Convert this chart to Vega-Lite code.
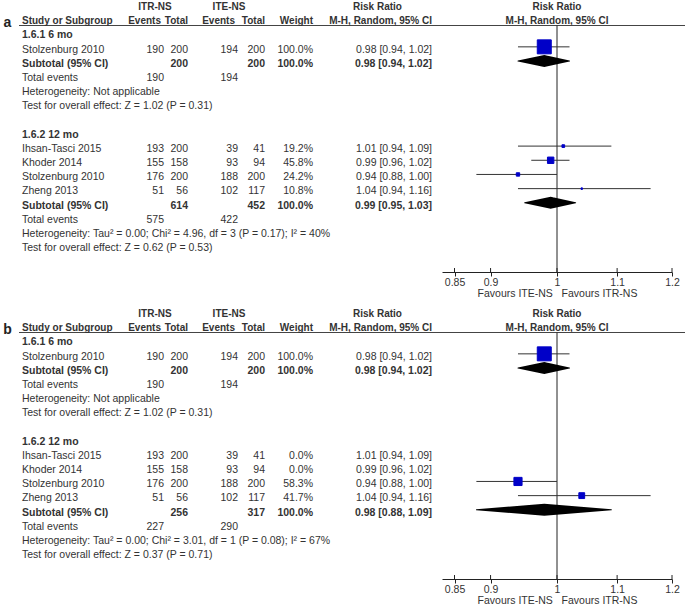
{
"$schema":"https://vega.github.io/schema/vega-lite/v6.json",
"padding":0,
"background":"white",
"config":{"view":{"stroke":null},"font":"Liberation Sans","text":{"font":"Liberation Sans","fontSize":10.5,"color":"#333","baseline":"middle"}},
"datasets":{
"a":[
{"row":0,"kind":"head1","e1":"ITR-NS","e2":"ITE-NS","ci":"Risk Ratio"},
{"row":1,"kind":"head2","label":"a","study":"Study or Subgroup","e1":"Events","n1":"Total","e2":"Events","n2":"Total","w":"Weight","ci":"M-H, Random, 95% CI"},
{"row":2,"kind":"group","study":"1.6.1 6 mo"},
{"row":3,"kind":"study","study":"Stolzenburg 2010","e1":"190","n1":"200","e2":"194","n2":"200","w":"100.0%","ci":"0.98 [0.94, 1.02]","est":0.98,"lo":0.94,"hi":1.02,"wt":100},
{"row":4,"kind":"subtotal","study":"Subtotal (95% CI)","n1":"200","n2":"200","w":"100.0%","ci":"0.98 [0.94, 1.02]","est":0.98,"lo":0.94,"hi":1.02},
{"row":5,"kind":"total","study":"Total events","e1":"190","e2":"194"},
{"row":6,"kind":"note","study":"Heterogeneity: Not applicable"},
{"row":7,"kind":"note","study":"Test for overall effect: Z = 1.02 (P = 0.31)"},
{"row":9,"kind":"group","study":"1.6.2 12 mo"},
{"row":10,"kind":"study","study":"Ihsan-Tasci 2015","e1":"193","n1":"200","e2":"39","n2":"41","w":"19.2%","ci":"1.01 [0.94, 1.09]","est":1.01,"lo":0.94,"hi":1.09,"wt":19.2},
{"row":11,"kind":"study","study":"Khoder 2014","e1":"155","n1":"158","e2":"93","n2":"94","w":"45.8%","ci":"0.99 [0.96, 1.02]","est":0.99,"lo":0.96,"hi":1.02,"wt":45.8},
{"row":12,"kind":"study","study":"Stolzenburg 2010","e1":"176","n1":"200","e2":"188","n2":"200","w":"24.2%","ci":"0.94 [0.88, 1.00]","est":0.94,"lo":0.88,"hi":1.0,"wt":24.2},
{"row":13,"kind":"study","study":"Zheng 2013","e1":"51","n1":"56","e2":"102","n2":"117","w":"10.8%","ci":"1.04 [0.94, 1.16]","est":1.04,"lo":0.94,"hi":1.16,"wt":10.8},
{"row":14,"kind":"subtotal","study":"Subtotal (95% CI)","n1":"614","n2":"452","w":"100.0%","ci":"0.99 [0.95, 1.03]","est":0.99,"lo":0.95,"hi":1.03},
{"row":15,"kind":"total","study":"Total events","e1":"575","e2":"422"},
{"row":16,"kind":"note","study":"Heterogeneity: Tau² = 0.00; Chi² = 4.96, df = 3 (P = 0.17); I² = 40%"},
{"row":17,"kind":"note","study":"Test for overall effect: Z = 0.62 (P = 0.53)"}
],
"b":[
{"row":0,"kind":"head1","e1":"ITR-NS","e2":"ITE-NS","ci":"Risk Ratio"},
{"row":1,"kind":"head2","label":"b","study":"Study or Subgroup","e1":"Events","n1":"Total","e2":"Events","n2":"Total","w":"Weight","ci":"M-H, Random, 95% CI"},
{"row":2,"kind":"group","study":"1.6.1 6 mo"},
{"row":3,"kind":"study","study":"Stolzenburg 2010","e1":"190","n1":"200","e2":"194","n2":"200","w":"100.0%","ci":"0.98 [0.94, 1.02]","est":0.98,"lo":0.94,"hi":1.02,"wt":100},
{"row":4,"kind":"subtotal","study":"Subtotal (95% CI)","n1":"200","n2":"200","w":"100.0%","ci":"0.98 [0.94, 1.02]","est":0.98,"lo":0.94,"hi":1.02},
{"row":5,"kind":"total","study":"Total events","e1":"190","e2":"194"},
{"row":6,"kind":"note","study":"Heterogeneity: Not applicable"},
{"row":7,"kind":"note","study":"Test for overall effect: Z = 1.02 (P = 0.31)"},
{"row":9,"kind":"group","study":"1.6.2 12 mo"},
{"row":10,"kind":"study","study":"Ihsan-Tasci 2015","e1":"193","n1":"200","e2":"39","n2":"41","w":"0.0%","ci":"1.01 [0.94, 1.09]","est":1.01,"lo":0.94,"hi":1.09,"wt":0},
{"row":11,"kind":"study","study":"Khoder 2014","e1":"155","n1":"158","e2":"93","n2":"94","w":"0.0%","ci":"0.99 [0.96, 1.02]","est":0.99,"lo":0.96,"hi":1.02,"wt":0},
{"row":12,"kind":"study","study":"Stolzenburg 2010","e1":"176","n1":"200","e2":"188","n2":"200","w":"58.3%","ci":"0.94 [0.88, 1.00]","est":0.94,"lo":0.88,"hi":1.0,"wt":58.3},
{"row":13,"kind":"study","study":"Zheng 2013","e1":"51","n1":"56","e2":"102","n2":"117","w":"41.7%","ci":"1.04 [0.94, 1.16]","est":1.04,"lo":0.94,"hi":1.16,"wt":41.7},
{"row":14,"kind":"subtotal","study":"Subtotal (95% CI)","n1":"256","n2":"317","w":"100.0%","ci":"0.98 [0.88, 1.09]","est":0.98,"lo":0.88,"hi":1.09},
{"row":15,"kind":"total","study":"Total events","e1":"227","e2":"290"},
{"row":16,"kind":"note","study":"Heterogeneity: Tau² = 0.00; Chi² = 3.01, df = 1 (P = 0.08); I² = 67%"},
{"row":17,"kind":"note","study":"Test for overall effect: Z = 0.37 (P = 0.71)"}
],
"ticks":[{"t":0.85},{"t":0.9},{"t":1},{"t":1.1},{"t":1.2}]
},
"spacing":8,
"vconcat":[
{"hconcat":[
{"width":19,"height":272,"data":{"name":"a"},"transform":[{"filter":"isValid(datum.label)"}],"mark":{"type":"text","fontSize":14,"fontWeight":"bold","color":"#222","dx":-2,"dy":2},"encoding":{"y":{"field":"row","type":"quantitative","scale":{"domain":[-0.494,18.69],"reverse":true,"nice":false,"zero":false},"axis":null},"text":{"field":"label"}}},
{"width":114,"height":272,"layer":[
{"data":{"values":[{}]},"mark":{"type":"rule","color":"#444"},"encoding":{"y":{"datum":1.305,"type":"quantitative","scale":{"domain":[-0.494,18.69],"reverse":true,"nice":false,"zero":false},"axis":null}}},
{"data":{"name":"a"},"transform":[{"filter":"isValid(datum.study)"}],"mark":{"type":"text","align":"left","dx":3,"fontSize":{"expr":"datum.kind == 'head2' ? 10 : 10.5"},"fontWeight":{"expr":"indexof(['head1','head2','group','subtotal'], datum.kind) >= 0 ? 'bold' : 'normal'"}},"encoding":{"x":{"value":0},"y":{"field":"row","type":"quantitative","scale":{"domain":[-0.494,18.69],"reverse":true,"nice":false,"zero":false},"axis":null},"text":{"field":"study"}}}
]},
{"width":31,"height":272,"layer":[
{"data":{"values":[{}]},"mark":{"type":"rule","color":"#444"},"encoding":{"y":{"datum":1.305,"type":"quantitative","scale":{"domain":[-0.494,18.69],"reverse":true,"nice":false,"zero":false},"axis":null}}},
{"data":{"name":"a"},"transform":[{"filter":"isValid(datum.e1) && datum.kind != 'head1'"}],"mark":{"type":"text","align":"right","dx":{"expr":"datum.kind == 'head2' ? -3 : 0"},"fontSize":{"expr":"datum.kind == 'head2' ? 10 : 10.5"},"fontWeight":{"expr":"indexof(['head1','head2','group','subtotal'], datum.kind) >= 0 ? 'bold' : 'normal'"}},"encoding":{"x":{"value":"width"},"y":{"field":"row","type":"quantitative","scale":{"domain":[-0.494,18.69],"reverse":true,"nice":false,"zero":false},"axis":null},"text":{"field":"e1"}}},
{"data":{"name":"a"},"transform":[{"filter":"datum.kind == 'head1'"}],"mark":{"type":"text","align":"center","dx":-9,"fontSize":10,"fontWeight":"bold"},"encoding":{"x":{"value":"width"},"y":{"field":"row","type":"quantitative","scale":{"domain":[-0.494,18.69],"reverse":true,"nice":false,"zero":false},"axis":null},"text":{"field":"e1"}}}
]},
{"width":24,"height":272,"layer":[
{"data":{"values":[{}]},"mark":{"type":"rule","color":"#444"},"encoding":{"y":{"datum":1.305,"type":"quantitative","scale":{"domain":[-0.494,18.69],"reverse":true,"nice":false,"zero":false},"axis":null}}},
{"data":{"name":"a"},"transform":[{"filter":"isValid(datum.n1)"}],"mark":{"type":"text","align":"right","fontSize":{"expr":"datum.kind == 'head2' ? 10 : 10.5"},"fontWeight":{"expr":"indexof(['head1','head2','group','subtotal'], datum.kind) >= 0 ? 'bold' : 'normal'"}},"encoding":{"x":{"value":"width"},"y":{"field":"row","type":"quantitative","scale":{"domain":[-0.494,18.69],"reverse":true,"nice":false,"zero":false},"axis":null},"text":{"field":"n1"}}}
]},
{"width":50,"height":272,"layer":[
{"data":{"values":[{}]},"mark":{"type":"rule","color":"#444"},"encoding":{"y":{"datum":1.305,"type":"quantitative","scale":{"domain":[-0.494,18.69],"reverse":true,"nice":false,"zero":false},"axis":null}}},
{"data":{"name":"a"},"transform":[{"filter":"isValid(datum.e2) && datum.kind != 'head1'"}],"mark":{"type":"text","align":"right","dx":{"expr":"datum.kind == 'head2' ? -3 : 0"},"fontSize":{"expr":"datum.kind == 'head2' ? 10 : 10.5"},"fontWeight":{"expr":"indexof(['head1','head2','group','subtotal'], datum.kind) >= 0 ? 'bold' : 'normal'"}},"encoding":{"x":{"value":"width"},"y":{"field":"row","type":"quantitative","scale":{"domain":[-0.494,18.69],"reverse":true,"nice":false,"zero":false},"axis":null},"text":{"field":"e2"}}},
{"data":{"name":"a"},"transform":[{"filter":"datum.kind == 'head1'"}],"mark":{"type":"text","align":"center","dx":-9,"fontSize":10,"fontWeight":"bold"},"encoding":{"x":{"value":"width"},"y":{"field":"row","type":"quantitative","scale":{"domain":[-0.494,18.69],"reverse":true,"nice":false,"zero":false},"axis":null},"text":{"field":"e2"}}}
]},
{"width":27,"height":272,"layer":[
{"data":{"values":[{}]},"mark":{"type":"rule","color":"#444"},"encoding":{"y":{"datum":1.305,"type":"quantitative","scale":{"domain":[-0.494,18.69],"reverse":true,"nice":false,"zero":false},"axis":null}}},
{"data":{"name":"a"},"transform":[{"filter":"isValid(datum.n2)"}],"mark":{"type":"text","align":"right","fontSize":{"expr":"datum.kind == 'head2' ? 10 : 10.5"},"fontWeight":{"expr":"indexof(['head1','head2','group','subtotal'], datum.kind) >= 0 ? 'bold' : 'normal'"}},"encoding":{"x":{"value":"width"},"y":{"field":"row","type":"quantitative","scale":{"domain":[-0.494,18.69],"reverse":true,"nice":false,"zero":false},"axis":null},"text":{"field":"n2"}}}
]},
{"width":48,"height":272,"layer":[
{"data":{"values":[{}]},"mark":{"type":"rule","color":"#444"},"encoding":{"y":{"datum":1.305,"type":"quantitative","scale":{"domain":[-0.494,18.69],"reverse":true,"nice":false,"zero":false},"axis":null}}},
{"data":{"name":"a"},"transform":[{"filter":"isValid(datum.w)"}],"mark":{"type":"text","align":"right","fontSize":{"expr":"datum.kind == 'head2' ? 10 : 10.5"},"fontWeight":{"expr":"indexof(['head1','head2','group','subtotal'], datum.kind) >= 0 ? 'bold' : 'normal'"}},"encoding":{"x":{"value":"width"},"y":{"field":"row","type":"quantitative","scale":{"domain":[-0.494,18.69],"reverse":true,"nice":false,"zero":false},"axis":null},"text":{"field":"w"}}}
]},
{"width":129,"height":272,"layer":[
{"data":{"values":[{}]},"mark":{"type":"rule","color":"#444"},"encoding":{"y":{"datum":1.305,"type":"quantitative","scale":{"domain":[-0.494,18.69],"reverse":true,"nice":false,"zero":false},"axis":null}}},
{"data":{"name":"a"},"transform":[{"filter":"isValid(datum.ci) && datum.kind != 'head1'"}],"mark":{"type":"text","align":"right","dx":-10,"fontSize":{"expr":"datum.kind == 'head2' ? 10 : 10.5"},"fontWeight":{"expr":"indexof(['head1','head2','group','subtotal'], datum.kind) >= 0 ? 'bold' : 'normal'"}},"encoding":{"x":{"value":"width"},"y":{"field":"row","type":"quantitative","scale":{"domain":[-0.494,18.69],"reverse":true,"nice":false,"zero":false},"axis":null},"text":{"field":"ci"}}},
{"data":{"name":"a"},"transform":[{"filter":"datum.kind == 'head1'"}],"mark":{"type":"text","align":"center","fontSize":10,"fontWeight":"bold"},"encoding":{"y":{"field":"row","type":"quantitative","scale":{"domain":[-0.494,18.69],"reverse":true,"nice":false,"zero":false},"axis":null},"text":{"field":"ci"}}}
]},
{"width":230,"height":272,"resolve":{"scale":{"y":"independent"}},"layer":[
{"data":{"name":"a"},"transform":[{"filter":"datum.kind == 'head1' || datum.kind == 'head2'"}],"mark":{"type":"text","align":"center","fontSize":10,"fontWeight":"bold"},"encoding":{"x":{"datum":1,"type":"quantitative","scale":{"type":"log","domain":[0.8333,1.2],"nice":false},"axis":{"values":[0.85,0.9,1,1.1,1.2],"format":"~g","title":"Favours ITE-NS\u00a0\u00a0\u00a0Favours ITR-NS","grid":false,"tickSize":4,"labelPadding":1,"titlePadding":1,"labelFlush":false,"domainColor":"#222","tickColor":"#222","labelColor":"#333","titleColor":"#333","labelFontSize":10.5,"titleFontSize":10.5,"titleFontWeight":"normal","labelFont":"Liberation Sans","titleFont":"Liberation Sans"}},"y":{"field":"row","type":"quantitative","scale":{"domain":[-0.494,18.69],"reverse":true,"nice":false,"zero":false},"axis":null},"text":{"field":"ci"}}},
{"data":{"values":[{}]},"mark":{"type":"rule","color":"#444"},"encoding":{"y":{"datum":1.495,"type":"quantitative","scale":{"domain":[-0.304,18.88],"reverse":true,"nice":false,"zero":false},"axis":null}}},
{"data":{"values":[{}]},"mark":{"type":"rule","color":"#222"},"encoding":{"x":{"datum":1,"type":"quantitative","scale":{"type":"log","domain":[0.8333,1.2],"nice":false},"axis":{"values":[0.85,0.9,1,1.1,1.2],"format":"~g","title":"Favours ITE-NS\u00a0\u00a0\u00a0Favours ITR-NS","grid":false,"tickSize":4,"labelPadding":1,"titlePadding":1,"labelFlush":false,"domainColor":"#222","tickColor":"#222","labelColor":"#333","titleColor":"#333","labelFontSize":10.5,"titleFontSize":10.5,"titleFontWeight":"normal","labelFont":"Liberation Sans","titleFont":"Liberation Sans"}},"y":{"datum":1.495,"type":"quantitative","scale":{"domain":[-0.304,18.88],"reverse":true,"nice":false,"zero":false},"axis":null},"y2":{"datum":18.88}}},
{"data":{"name":"ticks"},"mark":{"type":"rule","color":"#222"},"encoding":{"x":{"field":"t","type":"quantitative","scale":{"type":"log","domain":[0.8333,1.2],"nice":false},"axis":{"values":[0.85,0.9,1,1.1,1.2],"format":"~g","title":"Favours ITE-NS\u00a0\u00a0\u00a0Favours ITR-NS","grid":false,"tickSize":4,"labelPadding":1,"titlePadding":1,"labelFlush":false,"domainColor":"#222","tickColor":"#222","labelColor":"#333","titleColor":"#333","labelFontSize":10.5,"titleFontSize":10.5,"titleFontWeight":"normal","labelFont":"Liberation Sans","titleFont":"Liberation Sans"}},"y":{"datum":18.6,"type":"quantitative","scale":{"domain":[-0.304,18.88],"reverse":true,"nice":false,"zero":false},"axis":null},"y2":{"datum":18.88}}},
{"data":{"name":"a"},"transform":[{"filter":"datum.kind == 'study' && datum.wt > 0"}],"mark":{"type":"rule","color":"#333"},"encoding":{"x":{"field":"lo","type":"quantitative","scale":{"type":"log","domain":[0.8333,1.2],"nice":false},"axis":{"values":[0.85,0.9,1,1.1,1.2],"format":"~g","title":"Favours ITE-NS\u00a0\u00a0\u00a0Favours ITR-NS","grid":false,"tickSize":4,"labelPadding":1,"titlePadding":1,"labelFlush":false,"domainColor":"#222","tickColor":"#222","labelColor":"#333","titleColor":"#333","labelFontSize":10.5,"titleFontSize":10.5,"titleFontWeight":"normal","labelFont":"Liberation Sans","titleFont":"Liberation Sans"}},"x2":{"field":"hi"},"y":{"field":"row","type":"quantitative","scale":{"domain":[-0.304,18.88],"reverse":true,"nice":false,"zero":false},"axis":null}}},
{"data":{"name":"a"},"transform":[{"filter":"datum.kind == 'study' && datum.wt > 0"}],"mark":{"type":"point","shape":"square","filled":true,"color":"#0000C8","stroke":"#0000C8","strokeWidth":1,"opacity":1},"encoding":{"x":{"field":"est","type":"quantitative","scale":{"type":"log","domain":[0.8333,1.2],"nice":false},"axis":{"values":[0.85,0.9,1,1.1,1.2],"format":"~g","title":"Favours ITE-NS\u00a0\u00a0\u00a0Favours ITR-NS","grid":false,"tickSize":4,"labelPadding":1,"titlePadding":1,"labelFlush":false,"domainColor":"#222","tickColor":"#222","labelColor":"#333","titleColor":"#333","labelFontSize":10.5,"titleFontSize":10.5,"titleFontWeight":"normal","labelFont":"Liberation Sans","titleFont":"Liberation Sans"}},"y":{"field":"row","type":"quantitative","scale":{"domain":[-0.304,18.88],"reverse":true,"nice":false,"zero":false},"axis":null},"size":{"field":"wt","type":"quantitative","scale":{"type":"pow","exponent":2,"domain":[0,100],"range":[0,196]},"legend":null}}},
{"data":{"name":"a"},"transform":[{"filter":"datum.kind == 'subtotal'"},{"fold":["lo","est","hi"],"as":["key","rr"]}],"mark":{"type":"trail","color":"#000"},"encoding":{"x":{"field":"rr","type":"quantitative","scale":{"type":"log","domain":[0.8333,1.2],"nice":false},"axis":{"values":[0.85,0.9,1,1.1,1.2],"format":"~g","title":"Favours ITE-NS\u00a0\u00a0\u00a0Favours ITR-NS","grid":false,"tickSize":4,"labelPadding":1,"titlePadding":1,"labelFlush":false,"domainColor":"#222","tickColor":"#222","labelColor":"#333","titleColor":"#333","labelFontSize":10.5,"titleFontSize":10.5,"titleFontWeight":"normal","labelFont":"Liberation Sans","titleFont":"Liberation Sans"}},"y":{"field":"row","type":"quantitative","scale":{"domain":[-0.304,18.88],"reverse":true,"nice":false,"zero":false},"axis":null},"detail":{"field":"row"},"order":{"field":"rr","type":"quantitative"},"size":{"condition":{"test":"datum.key == 'est'","value":12},"value":0}}}
]},
{"width":13,"height":272,"data":{"values":[{}]},"mark":{"type":"rule","color":"#444"},"encoding":{"y":{"datum":1.305,"type":"quantitative","scale":{"domain":[-0.494,18.69],"reverse":true,"nice":false,"zero":false},"axis":null}}}
],"spacing":0,"bounds":"flush"},
{"hconcat":[
{"width":19,"height":272,"data":{"name":"b"},"transform":[{"filter":"isValid(datum.label)"}],"mark":{"type":"text","fontSize":14,"fontWeight":"bold","color":"#222","dx":-2,"dy":2},"encoding":{"y":{"field":"row","type":"quantitative","scale":{"domain":[-0.494,18.69],"reverse":true,"nice":false,"zero":false},"axis":null},"text":{"field":"label"}}},
{"width":114,"height":272,"layer":[
{"data":{"values":[{}]},"mark":{"type":"rule","color":"#444"},"encoding":{"y":{"datum":1.305,"type":"quantitative","scale":{"domain":[-0.494,18.69],"reverse":true,"nice":false,"zero":false},"axis":null}}},
{"data":{"name":"b"},"transform":[{"filter":"isValid(datum.study)"}],"mark":{"type":"text","align":"left","dx":3,"fontSize":{"expr":"datum.kind == 'head2' ? 10 : 10.5"},"fontWeight":{"expr":"indexof(['head1','head2','group','subtotal'], datum.kind) >= 0 ? 'bold' : 'normal'"}},"encoding":{"x":{"value":0},"y":{"field":"row","type":"quantitative","scale":{"domain":[-0.494,18.69],"reverse":true,"nice":false,"zero":false},"axis":null},"text":{"field":"study"}}}
]},
{"width":31,"height":272,"layer":[
{"data":{"values":[{}]},"mark":{"type":"rule","color":"#444"},"encoding":{"y":{"datum":1.305,"type":"quantitative","scale":{"domain":[-0.494,18.69],"reverse":true,"nice":false,"zero":false},"axis":null}}},
{"data":{"name":"b"},"transform":[{"filter":"isValid(datum.e1) && datum.kind != 'head1'"}],"mark":{"type":"text","align":"right","dx":{"expr":"datum.kind == 'head2' ? -3 : 0"},"fontSize":{"expr":"datum.kind == 'head2' ? 10 : 10.5"},"fontWeight":{"expr":"indexof(['head1','head2','group','subtotal'], datum.kind) >= 0 ? 'bold' : 'normal'"}},"encoding":{"x":{"value":"width"},"y":{"field":"row","type":"quantitative","scale":{"domain":[-0.494,18.69],"reverse":true,"nice":false,"zero":false},"axis":null},"text":{"field":"e1"}}},
{"data":{"name":"b"},"transform":[{"filter":"datum.kind == 'head1'"}],"mark":{"type":"text","align":"center","dx":-9,"fontSize":10,"fontWeight":"bold"},"encoding":{"x":{"value":"width"},"y":{"field":"row","type":"quantitative","scale":{"domain":[-0.494,18.69],"reverse":true,"nice":false,"zero":false},"axis":null},"text":{"field":"e1"}}}
]},
{"width":24,"height":272,"layer":[
{"data":{"values":[{}]},"mark":{"type":"rule","color":"#444"},"encoding":{"y":{"datum":1.305,"type":"quantitative","scale":{"domain":[-0.494,18.69],"reverse":true,"nice":false,"zero":false},"axis":null}}},
{"data":{"name":"b"},"transform":[{"filter":"isValid(datum.n1)"}],"mark":{"type":"text","align":"right","fontSize":{"expr":"datum.kind == 'head2' ? 10 : 10.5"},"fontWeight":{"expr":"indexof(['head1','head2','group','subtotal'], datum.kind) >= 0 ? 'bold' : 'normal'"}},"encoding":{"x":{"value":"width"},"y":{"field":"row","type":"quantitative","scale":{"domain":[-0.494,18.69],"reverse":true,"nice":false,"zero":false},"axis":null},"text":{"field":"n1"}}}
]},
{"width":50,"height":272,"layer":[
{"data":{"values":[{}]},"mark":{"type":"rule","color":"#444"},"encoding":{"y":{"datum":1.305,"type":"quantitative","scale":{"domain":[-0.494,18.69],"reverse":true,"nice":false,"zero":false},"axis":null}}},
{"data":{"name":"b"},"transform":[{"filter":"isValid(datum.e2) && datum.kind != 'head1'"}],"mark":{"type":"text","align":"right","dx":{"expr":"datum.kind == 'head2' ? -3 : 0"},"fontSize":{"expr":"datum.kind == 'head2' ? 10 : 10.5"},"fontWeight":{"expr":"indexof(['head1','head2','group','subtotal'], datum.kind) >= 0 ? 'bold' : 'normal'"}},"encoding":{"x":{"value":"width"},"y":{"field":"row","type":"quantitative","scale":{"domain":[-0.494,18.69],"reverse":true,"nice":false,"zero":false},"axis":null},"text":{"field":"e2"}}},
{"data":{"name":"b"},"transform":[{"filter":"datum.kind == 'head1'"}],"mark":{"type":"text","align":"center","dx":-9,"fontSize":10,"fontWeight":"bold"},"encoding":{"x":{"value":"width"},"y":{"field":"row","type":"quantitative","scale":{"domain":[-0.494,18.69],"reverse":true,"nice":false,"zero":false},"axis":null},"text":{"field":"e2"}}}
]},
{"width":27,"height":272,"layer":[
{"data":{"values":[{}]},"mark":{"type":"rule","color":"#444"},"encoding":{"y":{"datum":1.305,"type":"quantitative","scale":{"domain":[-0.494,18.69],"reverse":true,"nice":false,"zero":false},"axis":null}}},
{"data":{"name":"b"},"transform":[{"filter":"isValid(datum.n2)"}],"mark":{"type":"text","align":"right","fontSize":{"expr":"datum.kind == 'head2' ? 10 : 10.5"},"fontWeight":{"expr":"indexof(['head1','head2','group','subtotal'], datum.kind) >= 0 ? 'bold' : 'normal'"}},"encoding":{"x":{"value":"width"},"y":{"field":"row","type":"quantitative","scale":{"domain":[-0.494,18.69],"reverse":true,"nice":false,"zero":false},"axis":null},"text":{"field":"n2"}}}
]},
{"width":48,"height":272,"layer":[
{"data":{"values":[{}]},"mark":{"type":"rule","color":"#444"},"encoding":{"y":{"datum":1.305,"type":"quantitative","scale":{"domain":[-0.494,18.69],"reverse":true,"nice":false,"zero":false},"axis":null}}},
{"data":{"name":"b"},"transform":[{"filter":"isValid(datum.w)"}],"mark":{"type":"text","align":"right","fontSize":{"expr":"datum.kind == 'head2' ? 10 : 10.5"},"fontWeight":{"expr":"indexof(['head1','head2','group','subtotal'], datum.kind) >= 0 ? 'bold' : 'normal'"}},"encoding":{"x":{"value":"width"},"y":{"field":"row","type":"quantitative","scale":{"domain":[-0.494,18.69],"reverse":true,"nice":false,"zero":false},"axis":null},"text":{"field":"w"}}}
]},
{"width":129,"height":272,"layer":[
{"data":{"values":[{}]},"mark":{"type":"rule","color":"#444"},"encoding":{"y":{"datum":1.305,"type":"quantitative","scale":{"domain":[-0.494,18.69],"reverse":true,"nice":false,"zero":false},"axis":null}}},
{"data":{"name":"b"},"transform":[{"filter":"isValid(datum.ci) && datum.kind != 'head1'"}],"mark":{"type":"text","align":"right","dx":-10,"fontSize":{"expr":"datum.kind == 'head2' ? 10 : 10.5"},"fontWeight":{"expr":"indexof(['head1','head2','group','subtotal'], datum.kind) >= 0 ? 'bold' : 'normal'"}},"encoding":{"x":{"value":"width"},"y":{"field":"row","type":"quantitative","scale":{"domain":[-0.494,18.69],"reverse":true,"nice":false,"zero":false},"axis":null},"text":{"field":"ci"}}},
{"data":{"name":"b"},"transform":[{"filter":"datum.kind == 'head1'"}],"mark":{"type":"text","align":"center","fontSize":10,"fontWeight":"bold"},"encoding":{"y":{"field":"row","type":"quantitative","scale":{"domain":[-0.494,18.69],"reverse":true,"nice":false,"zero":false},"axis":null},"text":{"field":"ci"}}}
]},
{"width":230,"height":272,"resolve":{"scale":{"y":"independent"}},"layer":[
{"data":{"name":"b"},"transform":[{"filter":"datum.kind == 'head1' || datum.kind == 'head2'"}],"mark":{"type":"text","align":"center","fontSize":10,"fontWeight":"bold"},"encoding":{"x":{"datum":1,"type":"quantitative","scale":{"type":"log","domain":[0.8333,1.2],"nice":false},"axis":{"values":[0.85,0.9,1,1.1,1.2],"format":"~g","title":"Favours ITE-NS\u00a0\u00a0\u00a0Favours ITR-NS","grid":false,"tickSize":4,"labelPadding":1,"titlePadding":1,"labelFlush":false,"domainColor":"#222","tickColor":"#222","labelColor":"#333","titleColor":"#333","labelFontSize":10.5,"titleFontSize":10.5,"titleFontWeight":"normal","labelFont":"Liberation Sans","titleFont":"Liberation Sans"}},"y":{"field":"row","type":"quantitative","scale":{"domain":[-0.494,18.69],"reverse":true,"nice":false,"zero":false},"axis":null},"text":{"field":"ci"}}},
{"data":{"values":[{}]},"mark":{"type":"rule","color":"#444"},"encoding":{"y":{"datum":1.495,"type":"quantitative","scale":{"domain":[-0.304,18.88],"reverse":true,"nice":false,"zero":false},"axis":null}}},
{"data":{"values":[{}]},"mark":{"type":"rule","color":"#222"},"encoding":{"x":{"datum":1,"type":"quantitative","scale":{"type":"log","domain":[0.8333,1.2],"nice":false},"axis":{"values":[0.85,0.9,1,1.1,1.2],"format":"~g","title":"Favours ITE-NS\u00a0\u00a0\u00a0Favours ITR-NS","grid":false,"tickSize":4,"labelPadding":1,"titlePadding":1,"labelFlush":false,"domainColor":"#222","tickColor":"#222","labelColor":"#333","titleColor":"#333","labelFontSize":10.5,"titleFontSize":10.5,"titleFontWeight":"normal","labelFont":"Liberation Sans","titleFont":"Liberation Sans"}},"y":{"datum":1.495,"type":"quantitative","scale":{"domain":[-0.304,18.88],"reverse":true,"nice":false,"zero":false},"axis":null},"y2":{"datum":18.88}}},
{"data":{"name":"ticks"},"mark":{"type":"rule","color":"#222"},"encoding":{"x":{"field":"t","type":"quantitative","scale":{"type":"log","domain":[0.8333,1.2],"nice":false},"axis":{"values":[0.85,0.9,1,1.1,1.2],"format":"~g","title":"Favours ITE-NS\u00a0\u00a0\u00a0Favours ITR-NS","grid":false,"tickSize":4,"labelPadding":1,"titlePadding":1,"labelFlush":false,"domainColor":"#222","tickColor":"#222","labelColor":"#333","titleColor":"#333","labelFontSize":10.5,"titleFontSize":10.5,"titleFontWeight":"normal","labelFont":"Liberation Sans","titleFont":"Liberation Sans"}},"y":{"datum":18.6,"type":"quantitative","scale":{"domain":[-0.304,18.88],"reverse":true,"nice":false,"zero":false},"axis":null},"y2":{"datum":18.88}}},
{"data":{"name":"b"},"transform":[{"filter":"datum.kind == 'study' && datum.wt > 0"}],"mark":{"type":"rule","color":"#333"},"encoding":{"x":{"field":"lo","type":"quantitative","scale":{"type":"log","domain":[0.8333,1.2],"nice":false},"axis":{"values":[0.85,0.9,1,1.1,1.2],"format":"~g","title":"Favours ITE-NS\u00a0\u00a0\u00a0Favours ITR-NS","grid":false,"tickSize":4,"labelPadding":1,"titlePadding":1,"labelFlush":false,"domainColor":"#222","tickColor":"#222","labelColor":"#333","titleColor":"#333","labelFontSize":10.5,"titleFontSize":10.5,"titleFontWeight":"normal","labelFont":"Liberation Sans","titleFont":"Liberation Sans"}},"x2":{"field":"hi"},"y":{"field":"row","type":"quantitative","scale":{"domain":[-0.304,18.88],"reverse":true,"nice":false,"zero":false},"axis":null}}},
{"data":{"name":"b"},"transform":[{"filter":"datum.kind == 'study' && datum.wt > 0"}],"mark":{"type":"point","shape":"square","filled":true,"color":"#0000C8","stroke":"#0000C8","strokeWidth":1,"opacity":1},"encoding":{"x":{"field":"est","type":"quantitative","scale":{"type":"log","domain":[0.8333,1.2],"nice":false},"axis":{"values":[0.85,0.9,1,1.1,1.2],"format":"~g","title":"Favours ITE-NS\u00a0\u00a0\u00a0Favours ITR-NS","grid":false,"tickSize":4,"labelPadding":1,"titlePadding":1,"labelFlush":false,"domainColor":"#222","tickColor":"#222","labelColor":"#333","titleColor":"#333","labelFontSize":10.5,"titleFontSize":10.5,"titleFontWeight":"normal","labelFont":"Liberation Sans","titleFont":"Liberation Sans"}},"y":{"field":"row","type":"quantitative","scale":{"domain":[-0.304,18.88],"reverse":true,"nice":false,"zero":false},"axis":null},"size":{"field":"wt","type":"quantitative","scale":{"type":"pow","exponent":2,"domain":[0,100],"range":[0,196]},"legend":null}}},
{"data":{"name":"b"},"transform":[{"filter":"datum.kind == 'subtotal'"},{"fold":["lo","est","hi"],"as":["key","rr"]}],"mark":{"type":"trail","color":"#000"},"encoding":{"x":{"field":"rr","type":"quantitative","scale":{"type":"log","domain":[0.8333,1.2],"nice":false},"axis":{"values":[0.85,0.9,1,1.1,1.2],"format":"~g","title":"Favours ITE-NS\u00a0\u00a0\u00a0Favours ITR-NS","grid":false,"tickSize":4,"labelPadding":1,"titlePadding":1,"labelFlush":false,"domainColor":"#222","tickColor":"#222","labelColor":"#333","titleColor":"#333","labelFontSize":10.5,"titleFontSize":10.5,"titleFontWeight":"normal","labelFont":"Liberation Sans","titleFont":"Liberation Sans"}},"y":{"field":"row","type":"quantitative","scale":{"domain":[-0.304,18.88],"reverse":true,"nice":false,"zero":false},"axis":null},"detail":{"field":"row"},"order":{"field":"rr","type":"quantitative"},"size":{"condition":{"test":"datum.key == 'est'","value":12},"value":0}}}
]},
{"width":13,"height":272,"data":{"values":[{}]},"mark":{"type":"rule","color":"#444"},"encoding":{"y":{"datum":1.305,"type":"quantitative","scale":{"domain":[-0.494,18.69],"reverse":true,"nice":false,"zero":false},"axis":null}}}
],"spacing":0,"bounds":"flush"}
]
}
